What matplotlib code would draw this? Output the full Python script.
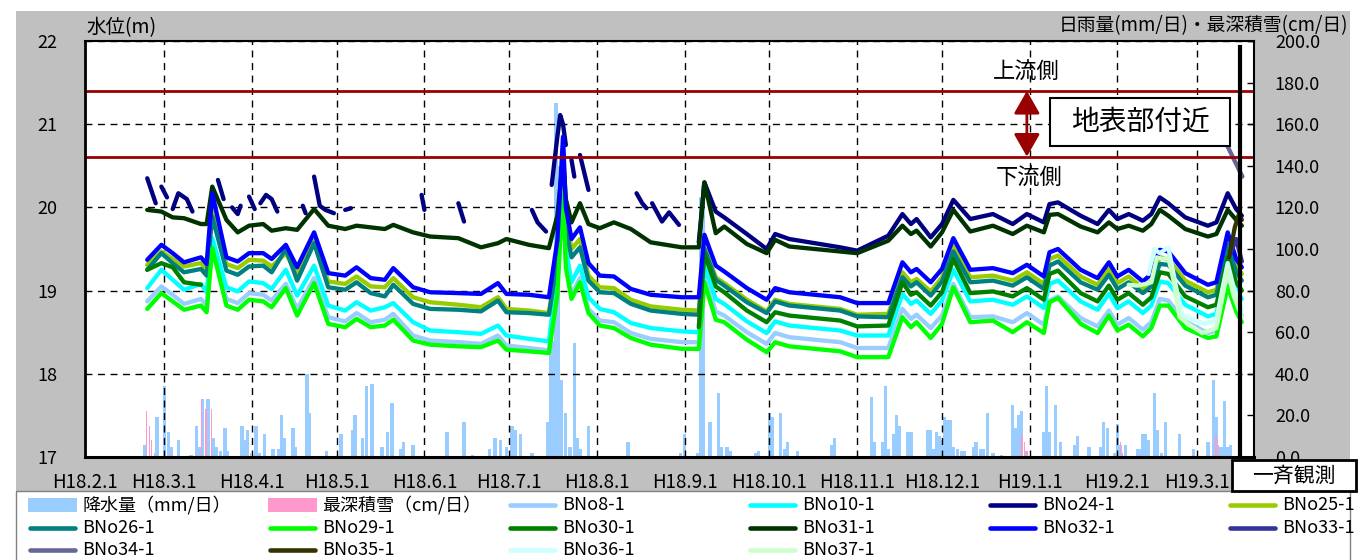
"""
Groundwater level record H18.2 - H19.3 with daily rain / snow
"""
import numpy             as np
import matplotlib
matplotlib.use('Agg')
import matplotlib.pyplot as plt
from matplotlib.patches import Rectangle
from matplotlib.lines   import Line2D

plt.rcParams['font.family'] = ['Noto Sans CJK JP', 'DejaVu Sans']

nan = np.nan
W, H = 1366, 560   # output size in px

# ---- data ---------------------------------------------------------------
# x = days since H18.2.1
month_days   = [0, 28, 59, 89, 120, 150, 181, 212, 242, 273, 303, 334, 365, 393]
month_labels = ['H18.2.1', 'H18.3.1', 'H18.4.1', 'H18.5.1', 'H18.6.1', 'H18.7.1',
                'H18.8.1', 'H18.9.1', 'H18.10.1', 'H18.11.1', 'H18.12.1',
                'H19.1.1', 'H19.2.1', 'H19.3.1']

grid_days = [22, 27, 31, 35, 41, 43, 45, 50, 54, 58,
             63, 66, 71, 75, 81, 86, 92, 96, 101, 106,
             109, 116, 122, 132, 140, 146, 149, 157, 164, 167,
             169, 170, 172, 175, 178, 182, 187, 193, 200, 211,
             217, 219, 223, 226, 234, 241, 244, 249, 267, 273,
             284, 289, 292, 294, 299, 303, 307, 313, 321, 328,
             333, 339, 341, 344, 352, 358, 362, 365, 369, 374,
             377, 380, 383, 389, 397, 400, 404, 407, 409]

bno8  = [18.87, 19.05, 18.95, 18.84, 18.90, 18.82, 19.57, 18.90, 18.85, 18.97,
         18.95, 18.88, 19.08, 18.78, 19.15, 18.68, 18.63, 18.73, 18.62, 18.65,
         18.72, 18.46, 18.40, 18.38, 18.36, 18.46, 18.34, 18.31, 18.28, 19.05,
         20.35, 19.35, 18.95, 19.15, 18.78, 18.64, 18.62, 18.49, 18.42, 18.38,
         18.38, 19.18, 18.75, 18.70, 18.50, 18.36, 18.49, 18.44, 18.38, 18.31,
         18.31, 18.78, 18.66, 18.71, 18.55, 18.70, 19.08, 18.68, 18.69, 18.62,
         18.73, 18.59, 18.88, 18.93, 18.67, 18.57, 18.76, 18.59, 18.67, 18.53,
         18.62, 18.90, 18.88, 18.63, 18.49, 18.52, 19.12, 18.80, 18.70]
bno10 = [19.03, 19.25, 19.13, 19.01, 19.08, 18.98, 19.63, 19.04, 18.99, 19.11,
         19.09, 19.02, 19.25, 18.94, 19.30, 18.82, 18.76, 18.86, 18.76, 18.80,
         18.85, 18.62, 18.52, 18.50, 18.48, 18.58, 18.46, 18.42, 18.39, 19.20,
         20.50, 19.50, 19.10, 19.30, 18.92, 18.78, 18.74, 18.61, 18.55, 18.51,
         18.50, 19.30, 18.90, 18.84, 18.63, 18.49, 18.63, 18.58, 18.52, 18.46,
         18.46, 18.96, 18.84, 18.88, 18.72, 18.88, 19.25, 18.87, 18.89, 18.83,
         18.93, 18.79, 19.08, 19.12, 18.87, 18.77, 18.96, 18.79, 18.87, 18.73,
         18.82, 19.11, 19.09, 18.83, 18.69, 18.72, 19.32, 19.00, 18.90]
bno25 = [19.31, 19.47, 19.38, 19.29, 19.33, 19.25, 19.97, 19.32, 19.27, 19.37,
         19.36, 19.29, 19.45, 19.19, 19.60, 19.11, 19.08, 19.17, 19.05, 19.04,
         19.15, 18.92, 18.86, 18.83, 18.80, 18.92, 18.78, 18.76, 18.73, 19.40,
         20.70, 19.90, 19.50, 19.62, 19.18, 19.04, 19.03, 18.89, 18.81, 18.77,
         18.76, 19.52, 19.16, 19.09, 18.89, 18.75, 18.89, 18.84, 18.78, 18.71,
         18.72, 19.22, 19.10, 19.14, 18.99, 19.16, 19.54, 19.16, 19.18, 19.12,
         19.22, 19.08, 19.38, 19.42, 19.17, 19.07, 19.26, 19.09, 19.17, 19.03,
         19.12, 19.40, 19.38, 19.12, 18.98, 19.01, 19.62, 19.30, 19.20]
bno26 = [19.25, 19.45, 19.33, 19.22, 19.26, 19.18, 19.89, 19.24, 19.19, 19.29,
         19.30, 19.22, 19.50, 19.12, 19.57, 19.04, 19.01, 19.10, 18.97, 18.93,
         19.07, 18.84, 18.78, 18.77, 18.75, 18.88, 18.74, 18.73, 18.71, 19.35,
         20.65, 19.75, 19.40, 19.52, 19.12, 18.98, 18.97, 18.84, 18.76, 18.72,
         18.71, 19.50, 19.13, 19.06, 18.86, 18.73, 18.87, 18.82, 18.76, 18.69,
         18.68, 19.16, 19.05, 19.10, 18.94, 19.11, 19.47, 19.10, 19.12, 19.06,
         19.16, 19.02, 19.30, 19.35, 19.10, 19.01, 19.19, 19.02, 19.10, 18.97,
         19.05, 19.32, 19.31, 19.06, 18.92, 18.95, 19.55, 19.22, 19.12]
bno29 = [18.78, 18.97, 18.87, 18.77, 18.82, 18.74, 19.51, 18.82, 18.77, 18.89,
         18.87, 18.80, 19.03, 18.70, 19.09, 18.60, 18.56, 18.66, 18.56, 18.58,
         18.65, 18.40, 18.35, 18.33, 18.32, 18.40, 18.29, 18.27, 18.25, 18.95,
         20.25, 19.28, 18.90, 19.10, 18.73, 18.58, 18.55, 18.43, 18.35, 18.30,
         18.30, 19.10, 18.65, 18.62, 18.41, 18.26, 18.38, 18.33, 18.27, 18.20,
         18.20, 18.68, 18.56, 18.62, 18.43, 18.60, 19.04, 18.62, 18.64, 18.50,
         18.62, 18.49, 18.86, 18.91, 18.60, 18.49, 18.70, 18.52, 18.59, 18.45,
         18.55, 18.82, 18.82, 18.55, 18.43, 18.45, 19.05, 18.75, 18.62]
bno30 = ([19.25, 19.33, 19.28, 19.10, 19.07] + [nan] * 35 +
         [18.56, 19.45, 19.05, 18.98, 18.76, 18.62, 18.74, 18.70, 18.64, 18.57,
          18.58, 19.10, 18.95, 18.98, 18.82, 18.98, 19.38, 18.97, 18.99, 18.93,
          19.03, 18.89, 19.20, 19.24, 18.97, 18.87, 19.06, 18.89, 18.97, 18.83,
          18.92, 19.22, 19.20, 18.93, 18.80, 18.83, 19.40, 19.10, 19.00])
bno31 = [19.97, 19.95, 19.88, 19.87, 19.80, 19.80, 20.25, 19.85, 19.70, 19.78,
         19.80, 19.72, 19.75, 19.73, 19.98, 19.78, 19.74, 19.78, 19.76, 19.74,
         19.79, 19.70, 19.65, 19.63, 19.52, 19.57, 19.62, 19.55, 19.51, 19.90,
         20.60, 20.10, 19.82, 20.05, 19.80, 19.75, 19.82, 19.74, 19.58, 19.52,
         19.52, 20.30, 19.69, 19.77, 19.56, 19.45, 19.61, 19.53, 19.47, 19.45,
         19.60, 19.78, 19.68, 19.72, 19.53, 19.70, 19.97, 19.71, 19.78, 19.68,
         19.78, 19.70, 19.91, 19.92, 19.77, 19.70, 19.82, 19.74, 19.78, 19.72,
         19.80, 19.97, 19.90, 19.74, 19.65, 19.68, 19.97, 19.85, 19.78]
bno32 = [19.37, 19.55, 19.45, 19.34, 19.40, 19.32, 20.17, 19.40, 19.35, 19.45,
         19.45, 19.38, 19.55, 19.28, 19.70, 19.21, 19.18, 19.28, 19.15, 19.13,
         19.27, 19.04, 18.98, 18.97, 18.96, 19.09, 18.96, 18.95, 18.92, 19.60,
         20.85, 20.00, 19.62, 19.76, 19.33, 19.18, 19.17, 19.02, 18.95, 18.92,
         18.92, 19.67, 19.30, 19.23, 19.03, 18.89, 19.03, 18.98, 18.92, 18.85,
         18.85, 19.34, 19.22, 19.26, 19.10, 19.26, 19.63, 19.25, 19.27, 19.21,
         19.31, 19.17, 19.46, 19.50, 19.25, 19.15, 19.34, 19.17, 19.25, 19.11,
         19.20, 19.49, 19.47, 19.21, 19.07, 19.10, 19.70, 19.38, 19.28]

# BNo24-1 has many gaps before H18.9
bno24_days = [22, 25, 26, 27, 29, 30, 31, 33, 36, 38,
              42, 47, 49, 50, 52, 54, 55, 56, 58, 60,
              61, 62, 64, 66, 68, 72, 77, 78, 79, 81,
              83, 85, 88, 90, 92, 94, 100, 119, 120, 125,
              132, 134, 140, 158, 160, 163, 164, 165, 167, 168,
              169, 170, 171, 172, 173, 174, 175, 178, 185, 195,
              197, 198.5, 199.5, 200.5, 204, 206.5, 210, 214, 217, 219,
              223, 226, 234, 241, 244, 249, 267, 273, 284, 289,
              292, 294, 299, 303, 307, 313, 321, 328, 333, 339,
              341, 344, 352, 358, 362, 365, 369, 374, 377, 380,
              383, 389, 397, 400, 404, 407, 409]
bno24      = [20.35, 20.05, nan, 20.25, 20.12, nan, 19.98, 20.17, 20.10, 19.95,
              nan, 20.33, 20.10, nan, 20.00, 19.92, 20.02, nan, 20.13, 19.98,
              nan, 20.05, 20.15, 20.10, 19.95, nan, 20.02, 19.93, nan, 20.37,
              20.02, 19.97, 19.93, nan, 19.97, 19.99, nan, 20.15, 19.97, nan,
              20.05, 19.83, nan, 19.97, 19.82, 19.71, nan, 20.27, 20.85, 21.11,
              21.00, 20.75, nan, 20.57, 20.37, nan, 20.63, 20.21, nan, 20.17,
              20.05, 19.99, nan, 20.05, 19.83, 19.94, 19.79, nan, 19.58, 20.30,
              19.95, 19.88, 19.68, 19.50, 19.68, 19.62, 19.52, 19.48, 19.66, 19.92,
              19.80, 19.86, 19.64, 19.80, 20.09, 19.86, 19.92, 19.80, 19.92, 19.82,
              20.04, 20.06, 19.90, 19.80, 19.97, 19.86, 19.92, 19.84, 19.92, 20.12,
              20.05, 19.88, 19.78, 19.82, 20.17, 19.98, 19.90]

bno33_days = [405, 407, 409]
bno33      = [19.45, 19.62, 19.35]
bno34_days = [404, 409.2]
bno34      = [20.73, 20.37]
bno35_days = [404.5, 406.5, 408, 409]
bno35      = [19.40, 19.76, 19.92, 19.85]
bno36_days = [376, 378, 380, 383, 386, 388, 392, 396, 400, 402, 404, 406, 409]
bno36      = [19.20, 19.50, 19.45, 19.52, 19.00, 18.70, 18.65, 18.60, 18.65, 19.00,
              19.33, 19.05, 18.77]
bno37_days = [369, 372, 375, 377, 379, 381, 383, 385, 387, 390, 395, 400, 402, 404,
              406, 409]
bno37      = [19.07, 19.06, 19.08, 19.10, 19.40, 19.38, 19.40, 19.10, 18.68, 18.60,
              18.49, 18.55, 18.90, 19.25, 18.95, 18.68]

rain_days = [21, 25.5, 28, 29.5, 30.5, 33, 37.5, 39.5, 40.5, 41.5,
             43.5, 45.5, 46.5, 48, 49.5, 50.5, 55.5, 56.5, 57.5, 60.5,
             61.5, 63.5, 66.5, 68.5, 69.5, 70.5, 73.5, 74.5, 78.5, 79.5,
             85.5, 90.5, 94.5, 95.5, 98, 99.5, 101.5, 105, 107, 108.5,
             111.5, 112.5, 116, 128, 134, 137, 143, 145, 147, 149,
             151, 152, 154, 158, 163.5, 164.5, 165.5, 166.5, 167.5, 168.5,
             170, 171.5, 173, 174, 175, 178, 192, 210.5, 212, 216.5,
             217.5, 218.5, 221, 224, 225, 227, 228, 237, 238, 242,
             243, 246, 247.5, 248.5, 252, 264, 265, 278, 279, 282,
             283, 284, 286, 287, 288, 291, 292, 298, 299, 300,
             301, 302, 303, 304, 305, 306, 307, 308.5, 310, 311,
             314, 315, 316.5, 317.5, 319, 321, 324, 328, 329, 330,
             331, 332.5, 339, 340, 341, 343, 345, 350, 351, 355,
             359, 360, 361.5, 364, 365, 366, 368, 372, 373, 374,
             375, 376, 378, 379, 380.5, 382, 387, 392, 397, 399,
             400, 401, 402, 403, 404, 405]
rain_mm   = [6, 19, 34, 12, 5, 8, 1, 15, 5, 28,
             28, 9, 5, 3, 14, 3, 15, 8, 13, 15,
             2, 11, 4, 4, 20, 9, 14, 5, 40, 21,
             3, 11, 13, 20, 9, 34, 35, 5, 12, 26,
             4, 7, 6, 12, 17, 1, 4, 9, 8, 5,
             15, 13, 11, 2, 17, 52, 56, 170, 140, 37,
             21, 5, 55, 9, 4, 15, 7, 2, 11, 2,
             125, 131, 17, 31, 5, 5, 3, 2, 3, 21,
             19, 21, 4, 7, 3, 6, 9, 29, 7, 7,
             34, 4, 11, 20, 15, 12, 12, 13, 13, 4,
             12, 10, 8, 19, 18, 18, 5, 4, 3, 3,
             5, 7, 4, 4, 21, 2, 1, 25, 14, 20,
             22, 3, 12, 34, 12, 25, 7, 6, 10, 5,
             5, 17, 14, 2, 16, 6, 6, 4, 4, 11,
             11, 8, 31, 13, 2, 17, 11, 4, 7, 37,
             19, 5, 5, 27, 5, 6]

snow_days = [21.8, 22.7, 23.5, 24.5, 30.5, 41.3, 42.8, 44.7, 58.5,
             331.3, 332.2, 333, 366, 366.8, 399.9, 400.7]
snow_cm   = [22, 15, 8, 2, 2, 28, 23, 23, 2,
             10, 7, 3, 7, 2, 10, 6]

upstream_level   = 21.40
downstream_level = 20.61
arrow_day        = 333
obs_day          = 408.5

# name, days, values, colour
series = [
    ('BNo8-1',  grid_days,  bno8,  '#99ccff'),
    ('BNo10-1', grid_days,  bno10, '#00ffff'),
    ('BNo24-1', bno24_days, bno24, '#000080'),
    ('BNo25-1', grid_days,  bno25, '#99cc00'),
    ('BNo26-1', grid_days,  bno26, '#008080'),
    ('BNo29-1', grid_days,  bno29, '#00ff00'),
    ('BNo30-1', grid_days,  bno30, '#008000'),
    ('BNo31-1', grid_days,  bno31, '#003300'),
    ('BNo32-1', grid_days,  bno32, '#0000ff'),
    ('BNo33-1', bno33_days, bno33, '#333399'),
    ('BNo34-1', bno34_days, bno34, '#666699'),
    ('BNo35-1', bno35_days, bno35, '#333300'),
    ('BNo36-1', bno36_days, bno36, '#ccffff'),
    ('BNo37-1', bno37_days, bno37, '#ccffcc'),
]
rain_color = '#99ccff'
snow_color = '#ff99cc'


def fx(px):
    return px / W

def fy(py):
    return 1 - py / H


def draw_legend(fig):
    entries = [('降水量（mm/日）', rain_color, 'bar'),
               ('最深積雪（cm/日）', snow_color, 'bar')]
    entries += [(name, c, 'line') for name, _, _, c in series]
    for i, (label, color, kind) in enumerate(entries):
        col, row = i % 6, i // 6
        x0 = 28 + 240 * col
        yc = [505, 528, 550][row]
        if kind == 'bar':
            fig.add_artist(Rectangle((fx(x0), fy(yc + 7)), 49 / W, 14 / H,
                                     transform=fig.transFigure, fc=color,
                                     ec='none', zorder=6))
        else:
            fig.add_artist(Line2D([fx(x0 + 2), fx(x0 + 47)], [fy(yc), fy(yc)],
                                  transform=fig.transFigure, color=color, lw=3.3,
                                  solid_capstyle='round', zorder=6))
        fig.text(fx(x0 + 54), fy(yc), label, ha='left', va='center',
                 fontsize=13, zorder=6)


def main():
    fig = plt.figure(figsize=(W / 100, H / 100), dpi=100)
    fig.patch.set_facecolor('white')

    # chart area (grey) and legend area
    fig.add_artist(Rectangle((fx(16), fy(491)), 1334 / W, 480 / H,
                             transform=fig.transFigure, fc='#c0c0c0',
                             ec='none', zorder=-2))
    fig.add_artist(Rectangle((fx(16), fy(566)), 1334 / W, 75 / H,
                             transform=fig.transFigure, fc='white',
                             ec='#808080', lw=1, zorder=5))

    ax = fig.add_axes([fx(85), fy(457), (1254 - 85) / W, (457 - 41) / H])
    ax2 = ax.twinx()
    ax.set_zorder(ax2.get_zorder() + 1)
    ax.patch.set_visible(False)
    ax2.patch.set_visible(True)
    ax2.set_facecolor('white')

    # rain / snow bars
    ax2.bar(rain_days, rain_mm, width=1.15, color=rain_color, linewidth=0)
    ax2.bar(snow_days, snow_cm, width=0.45, color=snow_color, linewidth=0)
    ax2.set_ylim(0, 200)
    ax2.set_yticks(np.arange(0, 201, 20))
    ax2.set_yticklabels(['%.1f' % v for v in np.arange(0, 201, 20)])
    ax2.tick_params(axis='y', direction='in', length=5, width=1, pad=15,
                    labelsize=13)
    for s in ax2.spines.values():
        s.set_visible(False)

    # water level lines
    for name, days, vals, color in series:
        ax.plot(days, vals, color=color, lw=3.1, solid_capstyle='round',
                solid_joinstyle='round')

    ax.axhline(upstream_level, color='#990000', lw=2)
    ax.axhline(downstream_level, color='#990000', lw=2)
    ax.annotate('', xy=(arrow_day, upstream_level), xytext=(arrow_day, downstream_level),
                arrowprops=dict(arrowstyle='<|-|>,head_length=0.7,head_width=0.4',
                                color='#990000', lw=2, shrinkA=0, shrinkB=0,
                                mutation_scale=20))
    ax.plot([obs_day, obs_day], [17.02, 21.93], color='black', lw=3)

    ax.set_xlim(0, 413.3)
    ax.set_ylim(17, 22)
    ax.set_yticks([17, 18, 19, 20, 21, 22])
    ax.set_xticks(month_days)
    ax.set_xticklabels(month_labels)
    ax.tick_params(axis='y', length=0, pad=20, labelsize=13)
    ax.tick_params(axis='x', length=0, pad=11, labelsize=13.5)
    ax.grid(True, color='black', lw=1, linestyle=(0, (5, 4)))
    for side, lw in [('left', 2), ('bottom', 2.2), ('top', 1.5), ('right', 1.5)]:
        ax.spines[side].set_linewidth(lw)
        ax.spines[side].set_color('black')

    # texts
    fig.text(fx(86), fy(28), '水位(m)', ha='left', va='center', fontsize=14)
    fig.text(fx(1348), fy(26), '日雨量(mm/日)・最深積雪(cm/日)', ha='right',
             va='center', fontsize=13.5)
    fig.text(fx(1026), fy(72), '上流側', ha='center', va='center', fontsize=16)
    fig.text(fx(1029), fy(178), '下流側', ha='center', va='center', fontsize=16)

    fig.add_artist(Rectangle((fx(1050), fy(146)), 180 / W, 48 / H,
                             transform=fig.transFigure, fc='white', ec='black',
                             lw=1.5, zorder=6))
    fig.text(fx(1140), fy(122), '地表部付近', ha='center', va='center',
             fontsize=20, zorder=7)
    fig.add_artist(Rectangle((fx(1232), fy(491)), 124 / W, 31 / H,
                             transform=fig.transFigure, fc='white', ec='black',
                             lw=2, zorder=6))
    fig.text(fx(1294), fy(476), '一斉観測', ha='center', va='center',
             fontsize=15, zorder=7)

    draw_legend(fig)

    fig.savefig('out.png', dpi=100)
    return None


if ("__main__" == __name__):
    main()
